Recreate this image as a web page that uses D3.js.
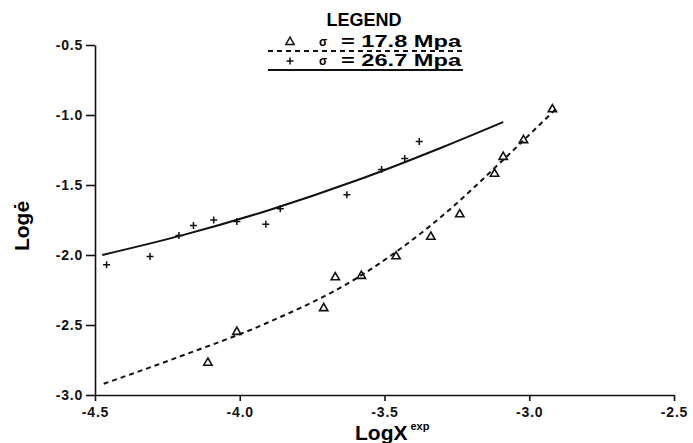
<!DOCTYPE html>
<html>
<head>
<meta charset="utf-8">
<script src="https://cdn.jsdelivr.net/npm/d3@7"></script>
<style>
  body { margin: 0; background: #fff; }
  svg { display: block; font-family: 'Liberation Sans', Arial, sans-serif; }
  .axis text { font-size: 14px; font-weight: bold; fill: #111; letter-spacing: 0.8px; }
  .axis path, .axis line { stroke: #111; stroke-width: 1.6px; }
</style>
</head>
<body>
<div id="chart"></div>
<script>
// sigma = 26.7 Mpa (plus markers)
const plusX = [-4.46, -4.31, -4.21, -4.16, -4.09, -4.01, -3.91, -3.86, -3.63, -3.51, -3.43, -3.38]
const plusY = [-2.07, -2.01, -1.86, -1.79, -1.75, -1.76, -1.78, -1.67, -1.57, -1.39, -1.31, -1.19]
// sigma = 17.8 Mpa (triangle markers)
const triX = [-4.11, -4.01, -3.71, -3.67, -3.58, -3.46, -3.34, -3.24, -3.12, -3.09, -3.02, -2.92]
const triY = [-2.77, -2.55, -2.38, -2.16, -2.15, -2.01, -1.87, -1.71, -1.42, -1.30, -1.18, -0.96]
// fitted curves
const fitPlusX = [-4.475, -4.2, -3.9, -3.6, -3.3, -3.09]
const fitPlusY = [-2.0, -1.86, -1.68, -1.47, -1.23, -1.05]
const fitTriX = [-4.47, -4.2, -3.9, -3.6, -3.3, -3.1, -2.9]
const fitTriY = [-2.92, -2.72, -2.48, -2.17, -1.72, -1.34, -0.94]

const xTicks = [-4.5, -4.0, -3.5, -3.0, -2.5]
const yTicks = [-0.5, -1.0, -1.5, -2.0, -2.5, -3.0]
const legendLabels = ['= 17.8 Mpa', '= 26.7 Mpa']

const W = 693
const H = 443

const x = d3.scaleLinear().domain([-4.5, -2.5]).range([95, 674])
const y = d3.scaleLinear().domain([-3.0, -0.5]).range([395, 45])

const svg = d3.select('#chart')
  .append('svg')
    .attr('width', W)
    .attr('height', H)

svg.append('rect').attr('width', W).attr('height', H).attr('fill', '#fff')

svg.append('g')
  .attr('class', 'axis')
  .attr('transform', 'translate(0,' + y(-3.0) + ')')
  .call(d3.axisBottom(x).tickValues(xTicks).tickFormat(d => d.toFixed(1)).tickSize(6).tickSizeOuter(0).tickPadding(6))

svg.append('g')
  .attr('class', 'axis')
  .attr('transform', 'translate(' + x(-4.5) + ',0)')
  .call(d3.axisLeft(y).tickValues(yTicks).tickFormat(d => d.toFixed(1)).tickSize(9).tickSizeOuter(0).tickPadding(3))

// axis titles
svg.append('text')
  .attr('transform', 'translate(29,226) rotate(-90)')
  .attr('text-anchor', 'middle')
  .style('font-size', '21px').style('font-weight', 'bold')
  .text('Logė')

const xt = svg.append('text')
  .attr('x', 355).attr('y', 440)
  .style('font-size', '21px').style('font-weight', 'bold')
xt.append('tspan').text('LogX')
xt.append('tspan').attr('dx', 3).attr('dy', -10).style('font-size', '11px').text('exp')

// fitted lines
const line = d3.line().x(d => x(d[0])).y(d => y(d[1])).curve(d3.curveMonotoneX)

svg.append('path')
  .datum(d3.zip(fitPlusX, fitPlusY))
  .attr('d', line)
  .attr('fill', 'none').attr('stroke', '#111').attr('stroke-width', 2)

svg.append('path')
  .datum(d3.zip(fitTriX, fitTriY))
  .attr('d', line)
  .attr('fill', 'none').attr('stroke', '#111').attr('stroke-width', 2)
  .attr('stroke-dasharray', '5,4')

// markers
const tri = d3.symbol().type(d3.symbolTriangle).size(30)
const plus = 'M-3.5,0H3.5M0,-3.5V3.5'

svg.selectAll('.tri')
  .data(d3.zip(triX, triY))
  .enter()
    .append('path')
      .attr('class', 'tri')
      .attr('transform', d => `translate(${x(d[0])},${y(d[1])})`)
      .attr('d', tri)
      .attr('fill', 'none').attr('stroke', '#111').attr('stroke-width', 1.6)

svg.selectAll('.plus')
  .data(d3.zip(plusX, plusY))
  .enter()
    .append('path')
      .attr('class', 'plus')
      .attr('transform', d => `translate(${x(d[0])},${y(d[1])})`)
      .attr('d', plus)
      .attr('fill', 'none').attr('stroke', '#111').attr('stroke-width', 1.5)

// legend
const legend = svg.append('g')
legend.append('text')
  .attr('x', 364).attr('y', 26)
  .attr('text-anchor', 'middle')
  .style('font-size', '18px').style('font-weight', 'bold')
  .text('LEGEND')

const rows = legend.selectAll('.row')
  .data(legendLabels)
  .enter()
    .append('g')
      .attr('class', 'row')
      .attr('transform', (d, i) => `translate(0,${i * 19})`)

rows.append('path')
  .attr('transform', 'translate(290,42)')
  .attr('d', (d, i) => i === 0 ? tri() : plus)
  .attr('fill', 'none').attr('stroke', '#111').attr('stroke-width', 1.5)
rows.append('text')
  .attr('x', 323).attr('y', 46)
  .attr('text-anchor', 'middle')
  .style('font-size', '12px').style('font-weight', 'bold')
  .text('σ')
rows.append('text')
  .attr('x', 341).attr('y', 47)
  .attr('textLength', 120)
  .attr('lengthAdjust', 'spacingAndGlyphs')
  .style('font-size', '16px').style('font-weight', 'bold')
  .text(d => d)
rows.append('line')
  .attr('x1', 268).attr('x2', 463)
  .attr('y1', 51).attr('y2', 51)
  .attr('stroke', '#111').attr('stroke-width', 2)
  .attr('stroke-dasharray', (d, i) => i === 0 ? '5,4' : null)
</script>
</body>
</html>
